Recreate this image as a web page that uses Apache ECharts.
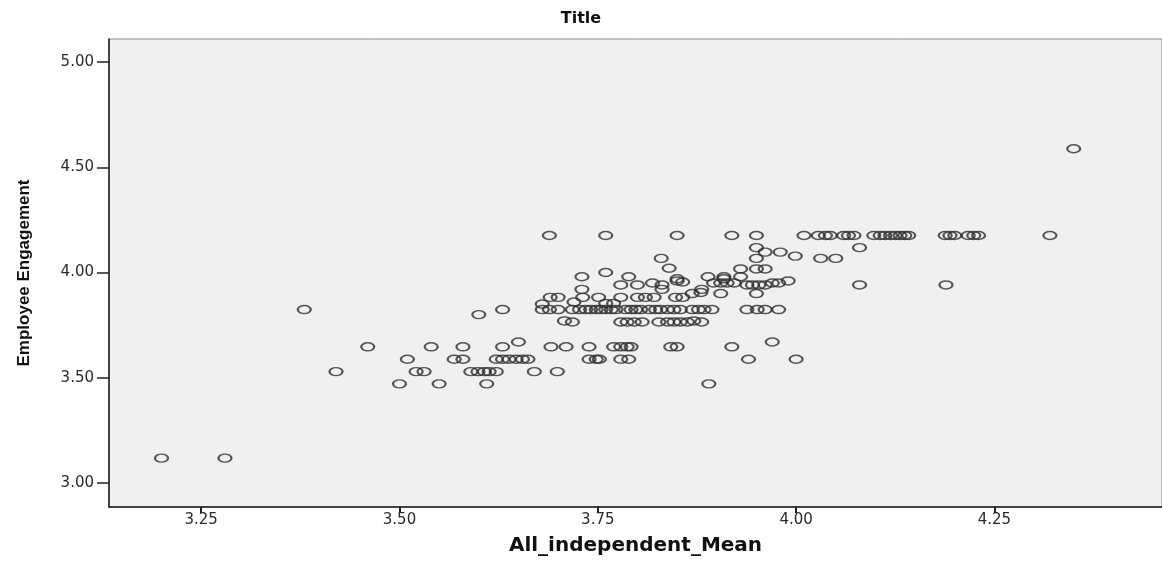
<!DOCTYPE html>
<html>
<head>
<meta charset="utf-8">
<script src="https://cdn.jsdelivr.net/npm/echarts@6/dist/echarts.min.js"></script>
<style>
html,body{margin:0;padding:0;background:#fff;}
#chart{width:1162px;height:561px;}
</style>
</head>
<body>
<div id="chart"></div>
<script>
// x: All_independent_Mean, y: Employee Engagement (paired by index)
const allIndependentMean = [
  3.20, 3.28,
  3.500, 3.550, 3.610, 3.890,
  3.420, 3.521, 3.531, 3.590, 3.599, 3.607, 3.613, 3.622, 3.670, 3.699,
  3.510, 3.569, 3.580, 3.622, 3.630, 3.638, 3.647, 3.655, 3.662, 3.739, 3.748, 3.752, 3.779, 3.789, 3.940, 4.000,
  3.460, 3.540, 3.580, 3.630, 3.691, 3.710, 3.739, 3.770, 3.779, 3.787, 3.792, 3.842, 3.850, 3.919,
  3.650, 3.970,
  3.708, 3.718, 3.779, 3.787, 3.796, 3.806, 3.827, 3.838, 3.846, 3.854, 3.863, 3.871, 3.881,
  3.600,
  3.380, 3.630, 3.680, 3.689, 3.700, 3.718, 3.727, 3.735, 3.741, 3.748, 3.754, 3.760, 3.767, 3.773, 3.785, 3.792,
  3.798, 3.804, 3.815, 3.823, 3.829, 3.838, 3.846, 3.854, 3.869, 3.877, 3.884, 3.894, 3.938, 3.951, 3.961, 3.978,
  3.680, 3.720, 3.760, 3.770,
  3.690, 3.700, 3.731, 3.751, 3.779, 3.800, 3.810, 3.821, 3.848, 3.857,
  3.869, 3.880, 3.905, 3.950,
  3.730, 3.831, 3.881,
  3.779, 3.800, 3.831, 3.938, 3.945, 3.953, 3.961, 4.080, 4.189,
  3.819, 3.857, 3.896, 3.905, 3.913, 3.922, 3.970, 3.978,
  3.850, 3.990, 3.850, 3.909,
  3.730, 3.789, 3.889, 3.909, 3.930,
  3.760,
  3.840, 3.930, 3.950, 3.961,
  3.830, 3.950, 4.031, 4.050, 3.999,
  3.961, 3.980,
  3.950, 4.080,
  3.689, 3.760, 3.850, 3.919, 3.950, 4.010, 4.028, 4.037, 4.043, 4.060, 4.066, 4.073, 4.098, 4.106,
  4.112, 4.119, 4.125, 4.131, 4.137, 4.142, 4.188, 4.194, 4.200, 4.217, 4.224, 4.230, 4.320,
  4.350
];
const employeeEngagement = [
  3.118, 3.118,
  3.471, 3.471, 3.471, 3.471,
  3.529, 3.529, 3.529, 3.529, 3.529, 3.529, 3.529, 3.529, 3.529, 3.529,
  3.588, 3.588, 3.588, 3.588, 3.588, 3.588, 3.588, 3.588, 3.588, 3.588, 3.588, 3.588, 3.588, 3.588, 3.588, 3.588,
  3.647, 3.647, 3.647, 3.647, 3.647, 3.647, 3.647, 3.647, 3.647, 3.647, 3.647, 3.647, 3.647, 3.647,
  3.670, 3.670,
  3.770, 3.765, 3.765, 3.765, 3.765, 3.765, 3.765, 3.765, 3.765, 3.765, 3.765, 3.770, 3.765,
  3.800,
  3.824, 3.824, 3.824, 3.824, 3.824, 3.824, 3.824, 3.824, 3.824, 3.824, 3.824, 3.824, 3.824, 3.824, 3.824, 3.824,
  3.824, 3.824, 3.824, 3.824, 3.824, 3.824, 3.824, 3.824, 3.824, 3.824, 3.824, 3.824, 3.824, 3.824, 3.824, 3.824,
  3.850, 3.860, 3.853, 3.853,
  3.882, 3.882, 3.882, 3.882, 3.882, 3.882, 3.882, 3.882, 3.882, 3.882,
  3.900, 3.905, 3.900, 3.900,
  3.920, 3.920, 3.920,
  3.941, 3.941, 3.941, 3.941, 3.941, 3.941, 3.941, 3.941, 3.941,
  3.950, 3.955, 3.950, 3.950, 3.950, 3.950, 3.950, 3.950,
  3.960, 3.960, 3.970, 3.970,
  3.980, 3.980, 3.980, 3.980, 3.980,
  4.000,
  4.020, 4.017, 4.017, 4.017,
  4.067, 4.067, 4.067, 4.067, 4.078,
  4.097, 4.097,
  4.118, 4.118,
  4.176, 4.176, 4.176, 4.176, 4.176, 4.176, 4.176, 4.176, 4.176, 4.176, 4.176, 4.176, 4.176, 4.176,
  4.176, 4.176, 4.176, 4.176, 4.176, 4.176, 4.176, 4.176, 4.176, 4.176, 4.176, 4.176, 4.176,
  4.588
];
const xTicks = [3.25, 3.50, 3.75, 4.00, 4.25];
const yTicks = [3.00, 3.50, 4.00, 4.50, 5.00];

const points = allIndependentMean.map((x, i) => [x, employeeEngagement[i]]);

const chart = echarts.init(document.getElementById('chart'), null, {renderer: 'canvas'});
const labelFont = {fontFamily: 'DejaVu Sans', fontSize: 15, color: '#2a2a2a'};
chart.setOption({
  animation: false,
  backgroundColor: '#ffffff',
  title: {
    text: 'Title',
    left: 'center',
    top: 6,
    textStyle: {fontFamily: 'DejaVu Sans', fontWeight: 'bold', fontSize: 16, color: '#111'}
  },
  grid: {
    left: 109, top: 39, right: -2, bottom: 54,
    show: true,
    backgroundColor: '#f0f0f0',
    borderColor: '#8a8a8a',
    borderWidth: 1
  },
  xAxis: {
    type: 'value',
    min: 3.1338,
    max: 4.4613,
    name: 'All_independent_Mean',
    nameLocation: 'middle',
    nameGap: 29,
    nameTextStyle: {fontFamily: 'DejaVu Sans', fontWeight: 'bold', fontSize: 20, color: '#111'},
    axisLine: {show: true, lineStyle: {color: '#1a1a1a', width: 1.5}},
    axisTick: {show: true, length: 6, customValues: xTicks, lineStyle: {color: '#222', width: 2}},
    axisLabel: Object.assign({margin: 6, customValues: xTicks, formatter: v => v.toFixed(2)}, labelFont),
    splitLine: {show: false}
  },
  yAxis: {
    type: 'value',
    min: 2.886,
    max: 5.1093,
    name: 'Employee Engagement',
    nameLocation: 'middle',
    nameGap: 76,
    nameTextStyle: {fontFamily: 'Liberation Sans', fontWeight: 'bold', fontSize: 17, color: '#111'},
    axisLine: {show: true, lineStyle: {color: '#1a1a1a', width: 1.5}},
    axisTick: {show: true, length: 12, customValues: yTicks, lineStyle: {color: '#222', width: 1.5}},
    axisLabel: Object.assign({margin: 15, customValues: yTicks, formatter: v => v.toFixed(2)}, labelFont),
    splitLine: {show: false}
  },
  series: [{
    type: 'scatter',
    data: points,
    symbol: 'circle',
    symbolSize: [13, 8],
    itemStyle: {color: 'rgba(0,0,0,0)', borderColor: '#2e2e2e', borderWidth: 1.8},
    emphasis: {disabled: true}
  }]
});
</script>
</body>
</html>
